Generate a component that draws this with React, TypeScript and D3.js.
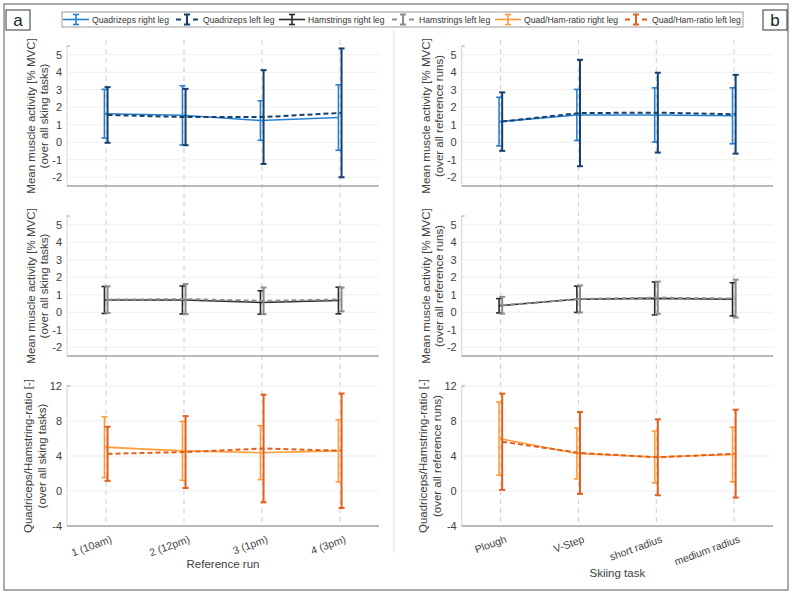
import React from "react";
import * as d3 from "d3";

// ---------- data ----------
const runLabels = ["1 (10am)", "2 (12pm)", "3 (1pm)", "4 (3pm)"];
const taskLabels = ["Plough", "V-Step", "short radius", "medium radius"];

// (a) over reference runs
const quadRightRunMean = [1.63, 1.54, 1.24, 1.41];
const quadRightRunSd = [1.39, 1.69, 1.13, 1.87];
const quadLeftRunMean = [1.56, 1.44, 1.44, 1.68];
const quadLeftRunSd = [1.59, 1.61, 2.68, 3.68];

const hamRightRunMean = [0.7, 0.7, 0.56, 0.67];
const hamRightRunSd = [0.77, 0.8, 0.67, 0.76];
const hamLeftRunMean = [0.72, 0.75, 0.65, 0.73];
const hamLeftRunSd = [0.76, 0.86, 0.76, 0.68];

const ratioRightRunMean = [5.01, 4.59, 4.38, 4.59];
const ratioRightRunSd = [3.48, 3.36, 3.08, 3.55];
const ratioLeftRunMean = [4.25, 4.45, 4.86, 4.6];
const ratioLeftRunSd = [3.09, 4.11, 6.15, 6.54];

// (b) over skiing tasks
const quadRightTaskMean = [1.18, 1.56, 1.56, 1.51];
const quadRightTaskSd = [1.39, 1.46, 1.55, 1.6];
const quadLeftTaskMean = [1.18, 1.67, 1.69, 1.6];
const quadLeftTaskSd = [1.67, 3.04, 2.28, 2.25];

const hamRightTaskMean = [0.37, 0.74, 0.79, 0.74];
const hamRightTaskSd = [0.41, 0.75, 0.94, 0.95];
const hamLeftTaskMean = [0.4, 0.76, 0.83, 0.78];
const hamLeftTaskSd = [0.48, 0.77, 0.92, 1.08];

const ratioRightTaskMean = [5.99, 4.29, 3.89, 4.17];
const ratioRightTaskSd = [4.18, 2.9, 2.96, 3.13];
const ratioLeftTaskMean = [5.63, 4.35, 3.85, 4.27];
const ratioLeftTaskSd = [5.5, 4.68, 4.34, 5.02];

const muscleTicks = [-2, -1, 0, 1, 2, 3, 4, 5];
const ratioTicks = [-4, 0, 4, 8, 12];

const legendLabels = [
  "Quadrizeps right leg",
  "Quadrizeps left leg",
  "Hamstrings right leg",
  "Hamstrings left leg",
  "Quad/Ham-ratio right leg",
  "Quad/Ham-ratio left leg",
];

// ---------- styles ----------
const C = {
  quadR: "#2480d4",
  quadL: "#173f6c",
  hamR: "#2a2a2a",
  hamL: "#8c8c8c",
  ratR: "#ff9c3a",
  ratL: "#e0601c",
};
const legendColors = [C.quadR, C.quadL, C.hamR, C.hamL, C.ratR, C.ratL];
const FONT = "'Liberation Sans', Arial, Helvetica, sans-serif";
const TXT = "#404040";

type Series = { mean: number[]; sd: number[]; color: string; dashed: boolean };

const cols = [
  { x0: 67, x1: 379, labels: runLabels, title: "Reference run", titleY: 568, sub: "(over all sking tasks)" },
  { x0: 461.7, x1: 773, labels: taskLabels, title: "Skiing task", titleY: 577, sub: "(over all reference runs)" },
];
const rows = [
  { y0: 46, y1: 186, domain: [-2.5, 5.5], ticks: muscleTicks, label: "Mean muscle activity [% MVC]", off1: 32, off2: 19 },
  { y0: 216, y1: 356, domain: [-2.5, 5.5], ticks: muscleTicks, label: "Mean muscle activity [% MVC]", off1: 32, off2: 19 },
  { y0: 386, y1: 526, domain: [-4, 12], ticks: ratioTicks, label: "Quadriceps/Hamstring-ratio [-]", off1: 35, off2: 21 },
];

const series: Series[][][] = [
  [
    [
      { mean: quadRightRunMean, sd: quadRightRunSd, color: C.quadR, dashed: false },
      { mean: quadLeftRunMean, sd: quadLeftRunSd, color: C.quadL, dashed: true },
    ],
    [
      { mean: hamRightRunMean, sd: hamRightRunSd, color: C.hamR, dashed: false },
      { mean: hamLeftRunMean, sd: hamLeftRunSd, color: C.hamL, dashed: true },
    ],
    [
      { mean: ratioRightRunMean, sd: ratioRightRunSd, color: C.ratR, dashed: false },
      { mean: ratioLeftRunMean, sd: ratioLeftRunSd, color: C.ratL, dashed: true },
    ],
  ],
  [
    [
      { mean: quadRightTaskMean, sd: quadRightTaskSd, color: C.quadR, dashed: false },
      { mean: quadLeftTaskMean, sd: quadLeftTaskSd, color: C.quadL, dashed: true },
    ],
    [
      { mean: hamRightTaskMean, sd: hamRightTaskSd, color: C.hamR, dashed: false },
      { mean: hamLeftTaskMean, sd: hamLeftTaskSd, color: C.hamL, dashed: true },
    ],
    [
      { mean: ratioRightTaskMean, sd: ratioRightTaskSd, color: C.ratR, dashed: false },
      { mean: ratioLeftTaskMean, sd: ratioLeftTaskSd, color: C.ratL, dashed: true },
    ],
  ],
];

function Panel({ ci, ri }: { ci: number; ri: number }) {
  const col = cols[ci];
  const row = rows[ri];
  const x = d3.scaleLinear().domain([0.5, 4.5]).range([col.x0, col.x1]);
  const y = d3.scaleLinear().domain(row.domain).range([row.y1, row.y0]);
  const cy = (row.y0 + row.y1) / 2;
  const s = series[ci][ri];
  return (
    <g>
      {row.ticks.map((t) => (
        <line key={"g" + t} x1={col.x0} x2={col.x1} y1={y(t)} y2={y(t)} stroke="#efefef" strokeWidth={1} />
      ))}
      <line x1={col.x0} x2={col.x0} y1={row.y0} y2={row.y1} stroke="#d2d2d2" strokeWidth={1} />
      <line x1={col.x0} x2={col.x0 + 3} y1={row.y0} y2={row.y0} stroke="#9a9a9a" strokeWidth={1} />
      {row.ticks.map((t) => (
        <text key={"t" + t} x={col.x0 - 5} y={y(t)} dy="0.36em" textAnchor="end" fontSize={11} fill={TXT} fontFamily={FONT}>
          {t}
        </text>
      ))}
      <text transform={`translate(${col.x0 - row.off1},${cy}) rotate(-90)`} textAnchor="middle" fontSize={11.5} fill={TXT} fontFamily={FONT}>
        {row.label}
      </text>
      <text transform={`translate(${col.x0 - row.off2},${cy}) rotate(-90)`} textAnchor="middle" fontSize={11.5} fill={TXT} fontFamily={FONT}>
        {col.sub}
      </text>
      {s.map((ser, si) => {
        const off = ser.dashed ? 0.02 : -0.02;
        const line = d3
          .line<number>()
          .x((_, i) => x(i + 1 + off))
          .y((d) => y(d));
        const lw = ser.dashed ? 2 : 1.6;
        return (
          <g key={si}>
            <path d={line(ser.mean) || ""} fill="none" stroke={ser.color} strokeWidth={lw} strokeDasharray={ser.dashed ? "5,3" : undefined} />
            {ser.mean.map((m, i) => {
              const xc = x(i + 1 + off);
              const yt = y(m + ser.sd[i]);
              const yb = y(m - ser.sd[i]);
              const cw = 3;
              return (
                <g key={i} stroke={ser.color} strokeWidth={lw}>
                  <line x1={xc} x2={xc} y1={yt} y2={yb} />
                  <line x1={xc - cw} x2={xc + cw} y1={yt} y2={yt} />
                  <line x1={xc - cw} x2={xc + cw} y1={yb} y2={yb} />
                </g>
              );
            })}
          </g>
        );
      })}
      <line x1={col.x0} x2={col.x1} y1={row.y1} y2={row.y1} stroke="#a3a3a3" strokeWidth={1.5} />
    </g>
  );
}

function Column({ ci }: { ci: number }) {
  const col = cols[ci];
  const x = d3.scaleLinear().domain([0.5, 4.5]).range([col.x0, col.x1]);
  const bottom = rows[2].y1;
  return (
    <g>
      {col.labels.map((_, i) => (
        <line key={"v" + i} x1={x(i + 1)} x2={x(i + 1)} y1={40} y2={bottom} stroke="#cccccc" strokeWidth={1} strokeDasharray="5,4" />
      ))}
      {rows.map((_, ri) => (
        <Panel key={ri} ci={ci} ri={ri} />
      ))}
      {col.labels.map((lab, i) => (
        <text
          key={"xl" + i}
          transform={`translate(${x(i + 1) + 4},${bottom + 9}) rotate(-20)`}
          textAnchor="end"
          dy="0.71em"
          fontSize={10.5}
          fill={TXT}
          fontFamily={FONT}
        >
          {lab}
        </text>
      ))}
      <text x={(col.x0 + col.x1) / 2} y={col.titleY} textAnchor="middle" fontSize={11.5} fill={TXT} fontFamily={FONT}>
        {col.title}
      </text>
    </g>
  );
}

function Legend() {
  const textX = [92, 203, 308, 419, 524, 652];
  const yc = 19.5;
  return (
    <g>
      <rect x={62} y={12} width={681} height={15} fill="#fff" stroke="#9c9c9c" strokeWidth={1} />
      {legendLabels.map((lab, i) => {
        const color = legendColors[i];
        const dashed = i % 2 === 1;
        const sx0 = textX[i] - 29;
        const sx1 = textX[i] - 3;
        const mx = (sx0 + sx1) / 2;
        const lw = dashed ? 2 : 1.6;
        return (
          <g key={i}>
            {dashed ? (
              <g stroke={color} strokeWidth={lw}>
                <line x1={sx0 + 2} x2={sx0 + 7} y1={yc} y2={yc} />
                <line x1={sx1 - 7} x2={sx1 - 2} y1={yc} y2={yc} />
              </g>
            ) : (
              <line x1={sx0} x2={sx1} y1={yc} y2={yc} stroke={color} strokeWidth={lw} />
            )}
            <g stroke={color} strokeWidth={lw}>
              <line x1={mx} x2={mx} y1={yc - 5} y2={yc + 5} />
              <line x1={mx - 3} x2={mx + 3} y1={yc - 5} y2={yc - 5} />
              <line x1={mx - 3} x2={mx + 3} y1={yc + 5} y2={yc + 5} />
            </g>
            <text x={textX[i]} y={yc} dy="0.35em" fontSize={8.6} fill="#333" fontFamily={FONT}>
              {lab}
            </text>
          </g>
        );
      })}
    </g>
  );
}

export default function App() {
  return (
    <svg width={794} height={595} style={{ position: "absolute", left: 0, top: 0, display: "block", background: "#fff" }}>
      <rect x={0} y={0} width={794} height={595} fill="#fff" />
      <rect x={4} y={4} width={784} height={586} fill="none" stroke="#8e8e8e" strokeWidth={1.5} />
      <line x1={394} x2={394} y1={30} y2={553} stroke="#e8e8e8" strokeWidth={1.5} />
      <Column ci={0} />
      <Column ci={1} />
      <Legend />
      <rect x={6} y={10} width={24} height={20} fill="#fff" stroke="#333" strokeWidth={1} />
      <text x={18} y={26} textAnchor="middle" fontSize={17} fill="#222" fontFamily={FONT}>
        a
      </text>
      <rect x={763} y={10} width={24} height={20} fill="#fff" stroke="#333" strokeWidth={1} />
      <text x={775} y={26} textAnchor="middle" fontSize={17} fill="#222" fontFamily={FONT}>
        b
      </text>
    </svg>
  );
}
